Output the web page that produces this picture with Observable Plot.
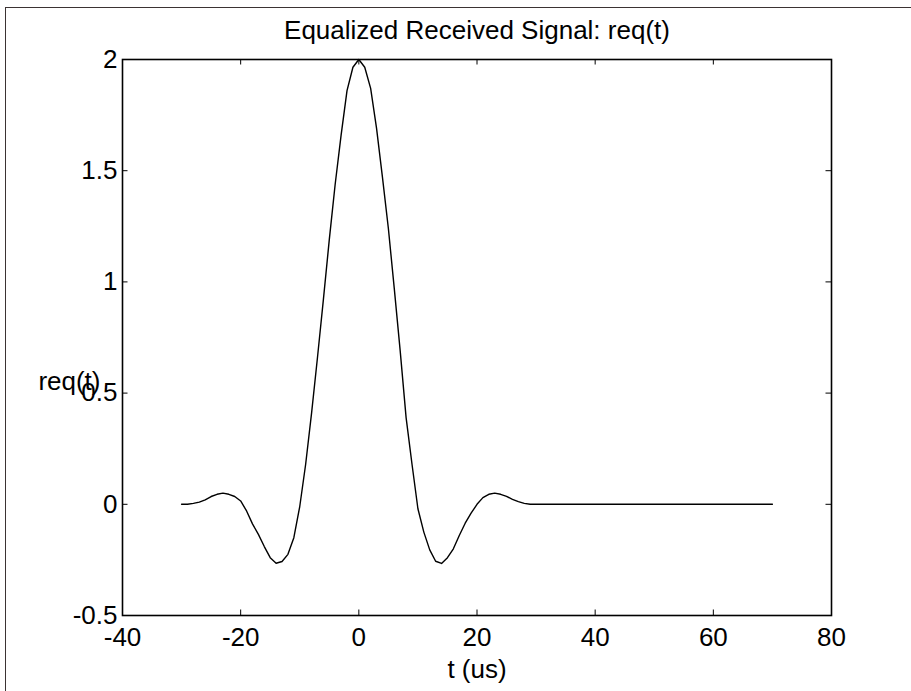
<!DOCTYPE html>
<html>
<head>
<meta charset="utf-8">
<script src="https://cdn.jsdelivr.net/npm/d3@7"></script>
<script src="https://cdn.jsdelivr.net/npm/@observablehq/plot@0.6"></script>
<style>
  html, body { margin: 0; padding: 0; background: #fff; }
  #wrap { position: relative; width: 911px; height: 691px; overflow: hidden; }
  #wrap svg { display: block; }
  #border { position: absolute; left: 5px; top: 7px; right: -2px; bottom: -2px;
            border-top: 1.5px solid #3b3333; border-left: 1.5px solid #3b3333; pointer-events: none; }
</style>
</head>
<body>
<div id="wrap"><div id="border"></div></div>
<script>
const title = "Equalized Received Signal: req(t)";
const xLabel = "t (us)";
const yLabel = "req(t)";
const xTicks = [-40, -20, 0, 20, 40, 60, 80];
const yTicks = [-0.5, 0, 0.5, 1, 1.5, 2];

const tValues = [-30, -29, -28, -27, -26, -25, -24, -23, -22, -21, -20, -19, -18, -17, -16, -15, -14, -13, -12, -11, -10,
  -9, -8, -7, -6, -5, -4, -3, -2, -1, 0, 1, 2, 3, 4, 5, 6, 7, 8, 9, 10,
  11, 12, 13, 14, 15, 16, 17, 18, 19, 20, 21, 22, 23, 24, 25, 26, 27, 28, 29, 70];
const reqValues = [0, 0, 0.004, 0.01, 0.02, 0.035, 0.045, 0.05, 0.045, 0.035, 0.015, -0.03, -0.088, -0.135, -0.19, -0.24, -0.265, -0.257, -0.225, -0.15, -0.01,
  0.18, 0.41, 0.66, 0.92, 1.19, 1.44, 1.66, 1.86, 1.965, 2.0, 1.965, 1.87, 1.69, 1.47, 1.24, 0.97, 0.69, 0.39, 0.18, -0.02,
  -0.125, -0.205, -0.256, -0.266, -0.24, -0.2, -0.14, -0.085, -0.04, 0.0, 0.03, 0.045, 0.05, 0.045, 0.036, 0.022, 0.012, 0.004, 0, 0];

const data = tValues.map((t, i) => ({t, v: reqValues[i]}));

const font = "'Liberation Sans', Arial, Helvetica, sans-serif";
const fs = 26;

const chart = Plot.plot({
  width: 911,
  height: 691,
  marginLeft: 122,
  marginRight: 80,
  marginTop: 59,
  marginBottom: 76,
  style: {fontFamily: font, fontSize: fs + "px", color: "black", background: "transparent", overflow: "visible"},
  x: {domain: [-40, 80]},
  y: {domain: [-0.5, 2]},
  marks: [
    Plot.axisX({ticks: xTicks, tickSize: 0, tickPadding: 12, label: null, fontSize: fs, tickFormat: d => String(d)}),
    Plot.axisY({ticks: yTicks, tickSize: 0, tickPadding: 5, label: null, fontSize: fs, tickFormat: d => String(d)}),
    // inward ticks on all four sides
    Plot.ruleX(xTicks, {x: d => d, y1: -0.5, y2: -0.5, insetTop: -5.5, stroke: "black", strokeWidth: 1}),
    Plot.ruleX(xTicks, {x: d => d, y1: 2, y2: 2, insetBottom: -5.5, stroke: "black", strokeWidth: 1}),
    Plot.ruleY(yTicks, {y: d => d, x1: -40, x2: -40, insetRight: -5.5, stroke: "black", strokeWidth: 1}),
    Plot.ruleY(yTicks, {y: d => d, x1: 80, x2: 80, insetLeft: -5.5, stroke: "black", strokeWidth: 1}),
    Plot.line(data, {x: "t", y: "v", stroke: "black", strokeWidth: 1.4}),
    Plot.frame({stroke: "black", strokeWidth: 1.6}),
    Plot.text([title], {text: d => d, frameAnchor: "top", lineAnchor: "bottom", dy: -21, fontSize: fs, fill: "black"}),
    Plot.text([xLabel], {text: d => d, frameAnchor: "bottom", lineAnchor: "bottom", dy: 62, fontSize: fs, fill: "black"}),
    Plot.text([yLabel], {text: d => d, frameAnchor: "left", textAnchor: "end", lineAnchor: "middle", dx: -22, dy: 44, fontSize: fs, fill: "black"})
  ]
});
document.getElementById("wrap").prepend(chart);
</script>
</body>
</html>
